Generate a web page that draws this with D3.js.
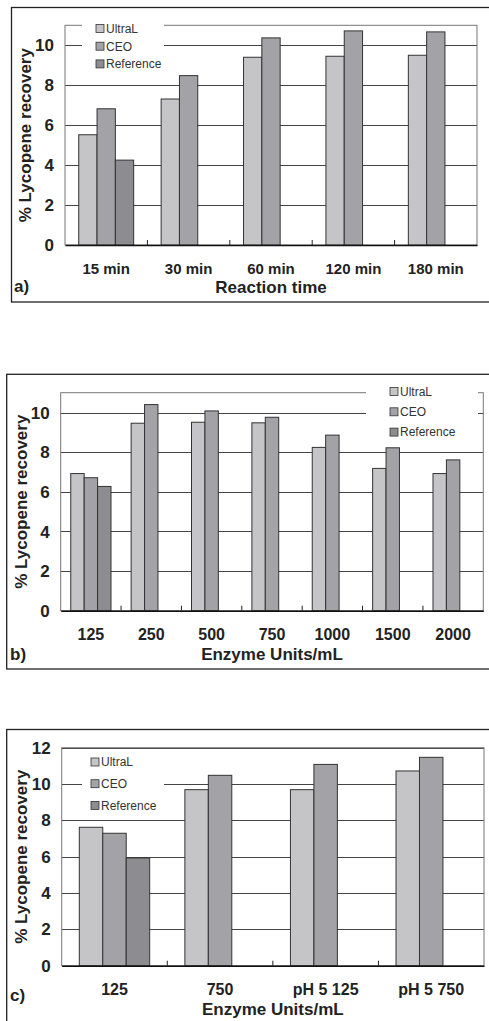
<!DOCTYPE html>
<html>
<head>
<meta charset="utf-8">
<style>
    body { margin: 0; background: #fff; }
    svg { display: block; font-family: "Liberation Sans", Arial, sans-serif; }
    .tick-label { font-size: 17px; font-weight: bold; fill: #222; }
    .cat-label { font-weight: bold; fill: #222; }
    .axis-title { font-size: 17px; font-weight: bold; fill: #222; }
    .legend-text { font-size: 12px; fill: #333; }
</style>
</head>
<body>
<svg width="489" height="1021"></svg>
<script src="https://d3js.org/d3.v7.min.js"></script>
<script>
    // series names shared by all three panels
    let seriesNames = ["UltraL", "CEO", "Reference"]

    // a) reaction time
    let timeCats = ["15 min", "30 min", "60 min", "120 min", "180 min"]
    let timeUltraL = [5.52, 7.31, 9.40, 9.45, 9.50]
    let timeCEO = [6.82, 8.48, 10.37, 10.72, 10.67]
    let timeRef = [4.25, null, null, null, null]
    let timeTicks = [0, 2, 4, 6, 8, 10]

    // b) enzyme units
    let unitCats = ["125", "250", "500", "750", "1000", "1500", "2000"]
    let unitUltraL = [6.92, 9.46, 9.51, 9.48, 8.24, 7.18, 6.92]
    let unitCEO = [6.71, 10.40, 10.08, 9.76, 8.86, 8.22, 7.61]
    let unitRef = [6.27, null, null, null, null, null, null]
    let unitTicks = [0, 2, 4, 6, 8, 10]

    // c) enzyme units incl. pH 5
    let phCats = ["125", "750", "pH 5 125", "pH 5 750"]
    let phUltraL = [7.62, 9.69, 9.69, 10.72]
    let phCEO = [7.29, 10.48, 11.08, 11.47]
    let phRef = [5.93, null, null, null]
    let phTicks = [0, 2, 4, 6, 8, 10, 12]

    let barColors = ["#c5c5c7", "#a3a3a7", "#8d8d91"]

    let svg = d3.select("svg")

    let color = d3.scaleOrdinal().domain(seriesNames).range(barColors)

    function drawPanel(p) {
        let g = svg.append("g")

        // outer frame (runs off the page on the right)
        g.append("rect")
            .attr("x", p.frame.x).attr("y", p.frame.y)
            .attr("width", 700).attr("height", p.frame.h)
            .attr("fill", "none").attr("stroke", "#222").attr("stroke-width", 1.3)

        let x = d3.scaleBand().domain(p.cats).range([p.left, p.right])
        let xs = d3.scaleBand().domain(seriesNames)
            .range([0, x.bandwidth()]).paddingOuter(0.75)
        let y = d3.scaleLinear().domain([0, p.max]).range([p.bottom, p.top])

        // gridlines
        let yAxis = d3.axisLeft(y).tickValues(p.ticks.filter(t => t > 0))
            .tickSize(-(p.right - p.left)).tickFormat("")
        g.append("g")
            .attr("transform", `translate(${p.left},0)`)
            .call(yAxis)
            .call(a => a.select(".domain").remove())
            .call(a => a.selectAll("line").attr("stroke", "#444").attr("shape-rendering", "crispEdges"))

        // plot border
        g.append("rect")
            .attr("x", p.left).attr("y", p.top)
            .attr("width", p.right - p.left).attr("height", p.bottom - p.top)
            .attr("fill", "none").attr("stroke", "#777").attr("stroke-width", 1)

        // tick labels
        g.selectAll(".tick-label")
            .data(p.ticks)
            .join("text")
            .attr("class", "tick-label")
            .attr("x", p.left - 11)
            .attr("y", d => y(d))
            .attr("dy", "0.36em")
            .attr("text-anchor", "end")
            .text(d => d)

        // bars
        let rows = p.cats.map((c, i) => ({ cat: c, vals: seriesNames.map((s, j) => ({ key: s, v: p.values[j][i] })) }))
        g.selectAll(".grp")
            .data(rows)
            .join("g")
            .attr("transform", d => `translate(${x(d.cat)},0)`)
            .selectAll("rect")
            .data(d => d.vals.filter(v => v.v != null))
            .join("rect")
            .attr("x", d => xs(d.key))
            .attr("y", d => y(d.v))
            .attr("width", xs.bandwidth())
            .attr("height", d => y(0) - y(d.v))
            .attr("fill", d => color(d.key))
            .attr("stroke", "#333")
            .attr("stroke-width", 1)

        // x axis with ticks between categories
        let xAxis = d3.axisBottom(x).tickSize(0).tickFormat("")
        g.append("g")
            .attr("transform", `translate(0,${p.bottom})`)
            .call(xAxis)
            .call(a => a.select(".domain").attr("stroke", "#111").attr("stroke-width", 1.6))
        g.selectAll(".sep")
            .data(p.cats.slice(1))
            .join("line")
            .attr("x1", d => x(d)).attr("x2", d => x(d))
            .attr("y1", p.bottom).attr("y2", p.bottom - 5)
            .attr("stroke", "#222")

        g.selectAll(".cat-label")
            .data(p.cats)
            .join("text")
            .attr("class", "cat-label")
            .style("font-size", p.catSize + "px")
            .attr("x", d => x(d) + x.bandwidth() / 2)
            .attr("y", p.catY)
            .attr("text-anchor", "middle")
            .text(d => d)

        g.append("text")
            .attr("class", "axis-title")
            .attr("x", (p.left + p.right) / 2)
            .attr("y", p.titleY)
            .attr("text-anchor", "middle")
            .text(p.title)

        g.append("text")
            .attr("class", "axis-title")
            .attr("transform", `translate(${p.yTitleX},${(p.top + p.bottom) / 2}) rotate(-90)`)
            .attr("text-anchor", "middle")
            .text("% Lycopene recovery")

        g.append("text")
            .attr("class", "axis-title")
            .attr("x", p.tag.x).attr("y", p.tag.y)
            .text(p.tag.t)

        // legend on white background
        let lg = p.legend
        g.append("rect")
            .attr("x", lg.x0).attr("y", lg.y0)
            .attr("width", lg.x1 - lg.x0).attr("height", lg.y1 - lg.y0)
            .attr("fill", "#fff")
        let items = g.selectAll(".leg")
            .data(seriesNames)
            .join("g")
            .attr("transform", (d, i) => `translate(${lg.bx},${lg.ry + i * lg.step})`)
        items.append("rect")
            .attr("x", 0).attr("y", -4).attr("width", 8).attr("height", 8)
            .attr("fill", d => color(d)).attr("stroke", "#333").attr("stroke-width", 0.8)
        items.append("text")
            .attr("class", "legend-text")
            .attr("x", 10).attr("dy", "0.36em")
            .text(d => d)
    }

    drawPanel({
        frame: { x: 11.5, y: 7.5, h: 294.5 },
        cats: timeCats, values: [timeUltraL, timeCEO, timeRef], ticks: timeTicks, max: 11,
        left: 65, right: 477, top: 25.3, bottom: 245,
        catSize: 15, catY: 273.5, title: "Reaction time", titleY: 293, yTitleX: 31,
        tag: { x: 14, y: 292, t: "a)" },
        legend: { x0: 82, x1: 164, y0: 18, y1: 72, bx: 96, ry: 28.5, step: 17.7 }
    })

    drawPanel({
        frame: { x: 6.7, y: 374.3, h: 294.7 },
        cats: unitCats, values: [unitUltraL, unitCEO, unitRef], ticks: unitTicks, max: 11,
        left: 60.7, right: 483.3, top: 392.7, bottom: 610.7,
        catSize: 16, catY: 640, title: "Enzyme Units/mL", titleY: 660, yTitleX: 27,
        tag: { x: 10, y: 660, t: "b)" },
        legend: { x0: 366, x1: 478, y0: 383, y1: 444, bx: 390, ry: 391.5, step: 20.3 }
    })

    drawPanel({
        frame: { x: 6.7, y: 729.5, h: 400 },
        cats: phCats, values: [phUltraL, phCEO, phRef], ticks: phTicks, max: 12,
        left: 61.7, right: 484, top: 747.7, bottom: 965.7,
        catSize: 16, catY: 995, title: "Enzyme Units/mL", titleY: 1015, yTitleX: 27,
        tag: { x: 10, y: 1001, t: "c)" },
        legend: { x0: 82, x1: 164, y0: 751, y1: 815, bx: 91, ry: 762, step: 21.7 }
    })
</script>
</body>
</html>
